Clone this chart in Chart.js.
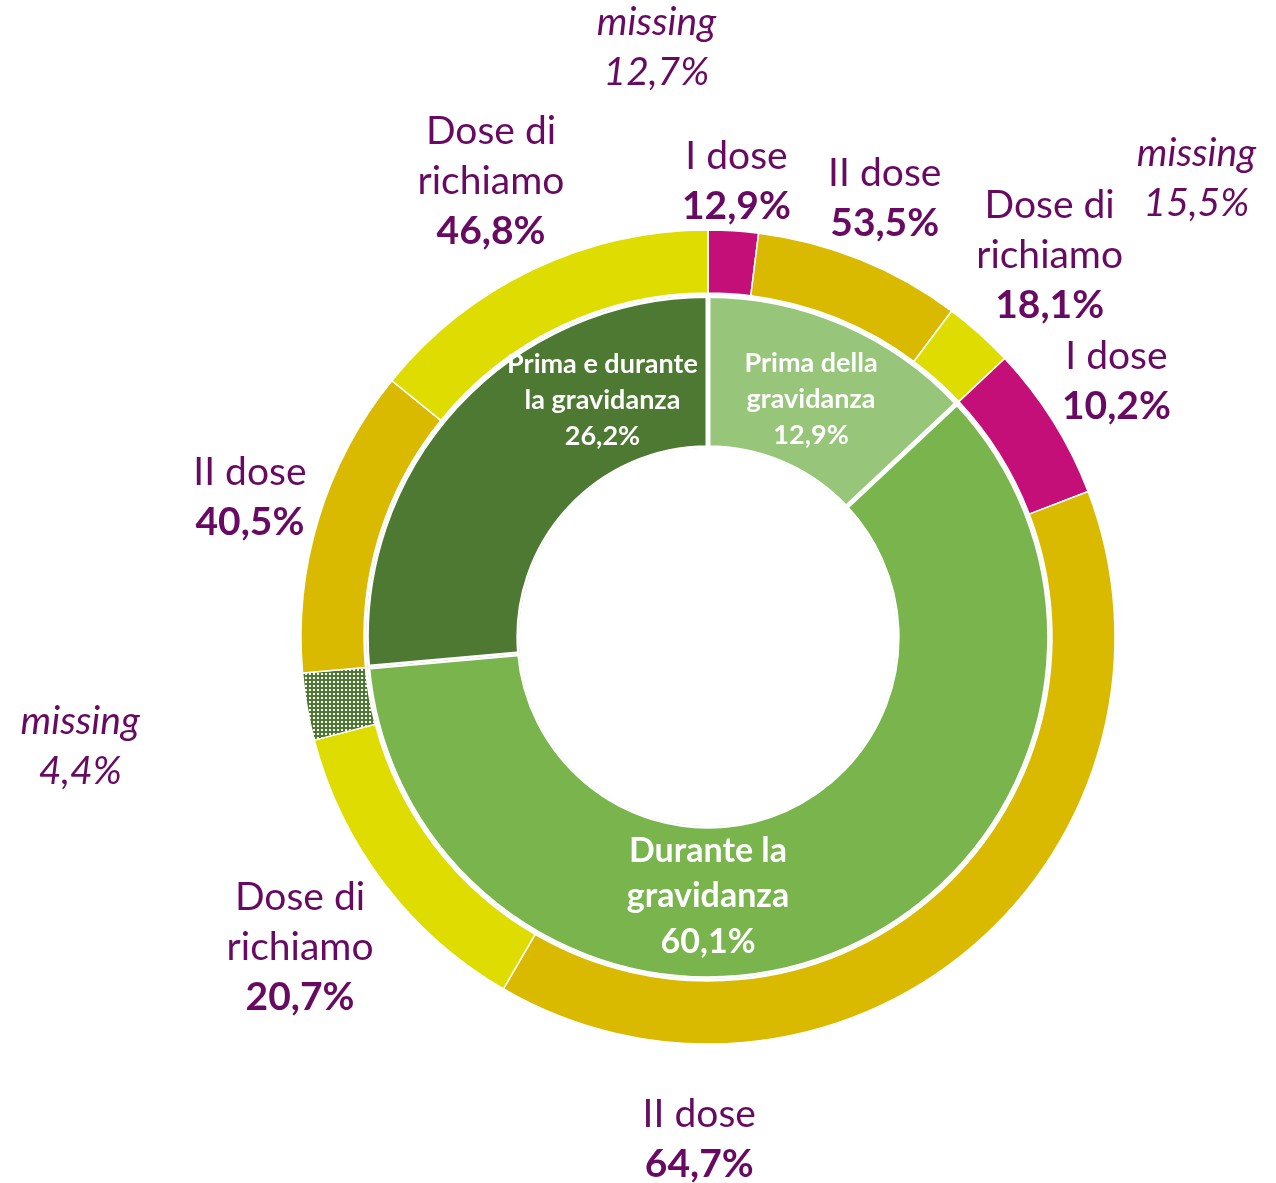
<!DOCTYPE html>
<html lang="it">
<head>
<meta charset="utf-8">
<title>Vaccinazione e gravidanza</title>
<script src="https://cdn.jsdelivr.net/npm/chart.js@4.4.1/dist/chart.umd.min.js"></script>
<style>
  html, body { margin: 0; padding: 0; background: #fff; overflow: hidden; }
  #wrap { width: 1276px; height: 1183px; position: relative; }
</style>
</head>
<body>
<div id="wrap"><canvas id="ciambella"></canvas></div>
<script>
// anello interno: quando è stata fatta la vaccinazione
const periodi = [['Prima della', 'gravidanza'], ['Durante la', 'gravidanza'], ['Prima e durante', 'la gravidanza']];
const periodiPct = [12.9, 60.1, 26.2];

// anello esterno: dosi ricevute, % sul totale del periodo
const dosi = [['I dose'], ['II dose'], ['Dose di', 'richiamo'], ['missing']];
const dosiPrima = [12.9, 53.5, 18.1, 15.5];
const dosiDurante = [10.2, 64.7, 20.7, 4.4];
const dosiPrimaDurante = [null, 40.5, 46.8, 12.7];

// quali missing hanno uno spicchio (tratteggiato)
const missingVisibile = [false, true, false];

const coloriPeriodi = ['#97C57A', '#79B54C', '#4E7932'];
const coloriDosi = ['#C40F78', '#D9BA00', '#DEDC00'];
const viola = '#680A62';
const famiglia = 'Lato, "Open Sans", sans-serif';

// posizioni fatte a mano (gradi da ore 12, senso orario)
const angoliInterni = [null, 180, 336];
const angoliEsterni = { '1-1': 181 };
const spostaMissing = { 0: 0, 2: -5 };
const distanzaMissing = { 0: 190, 1: 165, 2: 140 };

// spicchi dell'anello esterno, proporzionati dentro ogni periodo
const dosiPerPeriodo = [dosiPrima, dosiDurante, dosiPrimaDurante];
const fette = [];
const missingSenzaFetta = [];
dosiPerPeriodo.forEach((valori, p) => {
  const usate = [];
  valori.forEach((v, d) => {
    if (v === null) return;
    if (d === 3 && !missingVisibile[p]) return;
    usate.push(d);
  });
  const somma = usate.reduce((s, d) => s + valori[d], 0);
  usate.forEach(d => fette.push({ periodo: p, dose: d, pct: valori[d], valore: periodiPct[p] * valori[d] / somma }));
  if (!missingVisibile[p]) missingSenzaFetta.push({ periodo: p, pct: valori[3], ultima: fette.length - 1 });
});

function motivoMissing() {
  const c = document.createElement('canvas');
  c.width = 4; c.height = 4;
  const g = c.getContext('2d');
  g.fillStyle = '#4E7932';
  g.fillRect(0, 0, 4, 4);
  g.fillStyle = '#ffffff';
  g.fillRect(1, 1, 2, 2);
  return g.createPattern(c, 'repeat');
}
const tratteggio = motivoMissing();

const percento = v => v.toFixed(1).replace('.', ',') + '%';
const rad = g => (g - 90) * Math.PI / 180;

// centro del blocco di testo lungo il raggio, col punto più vicino a distanza "dist"
function centroFuori(cx, cy, ang, w, h, dist) {
  let lo = 0, hi = 1500;
  for (let i = 0; i < 40; i++) {
    const r = (lo + hi) / 2;
    const x = cx + Math.cos(ang) * r, y = cy + Math.sin(ang) * r;
    const nx = Math.max(x - w / 2, Math.min(cx, x + w / 2));
    const ny = Math.max(y - h / 2, Math.min(cy, y + h / 2));
    if (Math.hypot(nx - cx, ny - cy) < dist) lo = r; else hi = r;
  }
  return { x: cx + Math.cos(ang) * hi, y: cy + Math.sin(ang) * hi };
}

function misura(ctx, righe) {
  let w = 0;
  righe.forEach(r => { ctx.font = r.font; w = Math.max(w, ctx.measureText(r.testo).width); });
  return w;
}

function scrivi(ctx, righe, x, y, passo, colore) {
  ctx.fillStyle = colore;
  ctx.textAlign = 'center';
  ctx.textBaseline = 'middle';
  const y0 = y - (righe.length - 1) * passo / 2;
  righe.forEach((r, i) => {
    ctx.font = r.font;
    ctx.fillText(r.testo, x, y0 + i * passo);
  });
}

const etichette = {
  id: 'etichette',
  afterDatasetsDraw(chart) {
    const ctx = chart.ctx;
    const esterno = chart.getDatasetMeta(0).data;
    const interno = chart.getDatasetMeta(2).data;
    const cx = esterno[0].x, cy = esterno[0].y;
    const R = esterno[0].outerRadius;
    ctx.save();

    // testi bianchi dentro l'anello interno
    const fontInterni = [27, 34, 27];
    interno.forEach((arc, i) => {
      const a = angoliInterni[i] !== null ? rad(angoliInterni[i]) : (arc.startAngle + arc.endAngle) / 2;
      const r = (arc.innerRadius + arc.outerRadius) / 2 - 6;
      const size = fontInterni[i];
      const f = `bold ${size}px ${famiglia}`;
      const righe = periodi[i].concat(percento(periodiPct[i])).map(t => ({ testo: t, font: f }));
      scrivi(ctx, righe, cx + Math.cos(a) * r, cy + Math.sin(a) * r, size * 1.33, '#ffffff');
    });

    // etichette delle dosi attorno all'anello esterno
    const passo = 50;
    const fReg = `39px ${famiglia}`, fBold = `bold 39px ${famiglia}`, fIta = `italic 39px ${famiglia}`;
    const blocco = (righe, a, gap) => {
      const w = misura(ctx, righe);
      const h = righe.length * passo - 14;
      const c = centroFuori(cx, cy, a, w, h, R + gap);
      scrivi(ctx, righe, c.x, c.y, passo, viola);
    };

    fette.forEach((f, k) => {
      const arc = esterno[k];
      const chiave = f.periodo + '-' + f.dose;
      const a = angoliEsterni[chiave] !== undefined ? rad(angoliEsterni[chiave]) : (arc.startAngle + arc.endAngle) / 2;
      if (f.dose === 3) {
        blocco([{ testo: 'missing', font: fIta }, { testo: percento(f.pct), font: fIta }], a, distanzaMissing[f.periodo]);
      } else {
        const righe = dosi[f.dose].map(t => ({ testo: t, font: fReg }));
        righe.push({ testo: percento(f.pct), font: fBold });
        blocco(righe, a, angoliEsterni[chiave] !== undefined ? 52 : 6);
      }
    });

    missingSenzaFetta.forEach(m => {
      const a = esterno[m.ultima].endAngle + (spostaMissing[m.periodo] || 0) * Math.PI / 180;
      blocco([{ testo: 'missing', font: fIta }, { testo: percento(m.pct), font: fIta }], a, distanzaMissing[m.periodo]);
    });
    ctx.restore();
  }
};

new Chart(document.getElementById('ciambella'), {
  type: 'doughnut',
  data: {
    labels: fette.map(f => dosi[f.dose].join(' ')),
    datasets: [
      {
        data: fette.map(f => f.valore),
        backgroundColor: fette.map(f => f.dose === 3 ? tratteggio : coloriDosi[f.dose]),
        borderColor: '#ffffff',
        borderWidth: 1.5,
        weight: 63
      },
      {
        // sottile distacco bianco tra i due anelli
        data: [1],
        backgroundColor: 'rgba(0,0,0,0)',
        borderWidth: 0,
        weight: 2
      },
      {
        data: periodiPct,
        backgroundColor: coloriPeriodi,
        borderColor: '#ffffff',
        borderWidth: 2.5,
        borderAlign: 'inner',
        weight: 153
      }
    ]
  },
  options: {
    responsive: true,
    maintainAspectRatio: false,
    animation: false,
    events: [],
    radius: 407,
    cutout: '46.4%',
    layout: { padding: { left: 140, right: 0, top: 91, bottom: 0 } },
    plugins: {
      legend: { display: false },
      tooltip: { enabled: false }
    }
  },
  plugins: [etichette]
});
</script>
</body>
</html>
